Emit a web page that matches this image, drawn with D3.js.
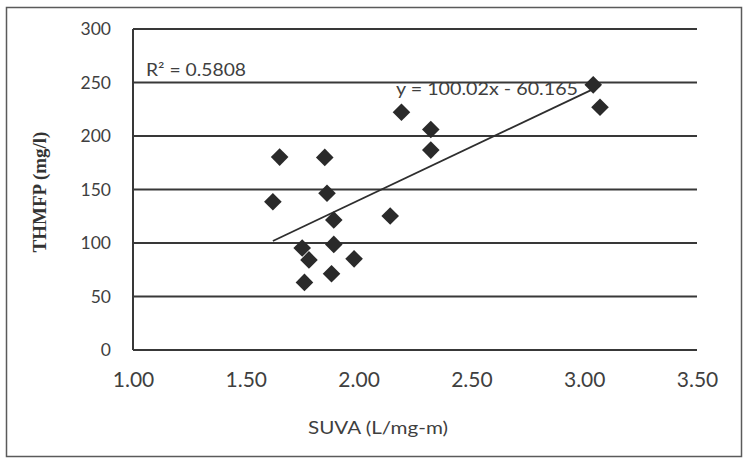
<!DOCTYPE html>
<html>
<head>
<meta charset="utf-8">
<script src="https://cdn.jsdelivr.net/npm/d3@7"></script>
<style>
  html, body { margin: 0; padding: 0; background: #ffffff; }
  svg { display: block; }
</style>
</head>
<body>
<div id="chart"></div>
<script>
// SUVA vs. THMFP samples
const suva  = [1.62, 1.65, 1.85, 1.86, 1.89, 1.89, 1.75, 1.78, 1.98, 1.88, 1.76, 2.14, 2.19, 2.32, 2.32, 3.04, 3.07];
const thmfp = [138.5, 180.3, 180.0, 146.5, 121.5, 98.7, 95.3, 84.2, 85.2, 71.3, 63.2, 125.3, 222.2, 206.1, 186.8, 247.8, 226.9];

// Axis ticks
const xTicks = [1.00, 1.50, 2.00, 2.50, 3.00, 3.50];
const yTicks = [0, 50, 100, 150, 200, 250, 300];

// Linear trend line
const slope = 100.02;
const intercept = -60.165;
const rSquared = 0.5808;

const W = 745, H = 466;
const svg = d3.select("#chart").append("svg")
  .attr("width", W).attr("height", H);

// Outer chart frame
svg.append("rect")
  .attr("x", 6.5).attr("y", 7.5)
  .attr("width", 735).attr("height", 449)
  .attr("fill", "#ffffff")
  .attr("stroke", "#5a5a5a").attr("stroke-width", 1.5);

const x = d3.scaleLinear().domain([1.0, 3.5]).range([133, 697]);
const y = d3.scaleLinear().domain([0, 300]).range([350, 29]);

const ink = "#3f3f3f";
const font = "Lato, 'Open Sans', sans-serif";

// Horizontal gridlines (the 0 line doubles as the x axis)
svg.append("g")
  .selectAll("line")
  .data(yTicks)
  .join("line")
  .attr("x1", x(1.0)).attr("x2", x(3.5))
  .attr("y1", d => y(d)).attr("y2", d => y(d))
  .attr("stroke", "#383838").attr("stroke-width", 2);

// Vertical axis line
svg.append("line")
  .attr("x1", x(1.0)).attr("x2", x(1.0))
  .attr("y1", y(0)).attr("y2", y(300))
  .attr("stroke", "#383838").attr("stroke-width", 2);

// Y axis tick labels
const yAxis = d3.axisLeft(y).tickValues(yTicks).tickSize(0).tickPadding(22)
  .tickFormat(d3.format("d"));
const gy = svg.append("g").attr("transform", `translate(${x(1.0)},0)`).call(yAxis);
gy.select(".domain").remove();
gy.selectAll("text")
  .attr("fill", ink)
  .style("font-family", font)
  .style("font-size", "17.5px");

// X axis tick labels
const xAxis = d3.axisBottom(x).tickValues(xTicks).tickSize(0).tickPadding(22)
  .tickFormat(d3.format(".2f"));
const gx = svg.append("g").attr("transform", `translate(0,${y(0)})`).call(xAxis);
gx.select(".domain").remove();
gx.selectAll("text")
  .attr("fill", ink)
  .style("font-family", font)
  .style("font-size", "21px");

// Axis titles
svg.append("text")
  .attr("x", 308).attr("y", 434)
  .attr("fill", ink)
  .attr("textLength", 140).attr("lengthAdjust", "spacingAndGlyphs")
  .style("font-family", font)
  .style("font-size", "18px")
  .text("SUVA (L/mg-m)");

svg.append("text")
  .attr("transform", "translate(46,192) rotate(-90)")
  .attr("text-anchor", "middle")
  .attr("fill", "#333333")
  .style("font-family", "'Liberation Serif', 'Times New Roman', serif")
  .style("font-weight", "bold")
  .style("font-size", "19px")
  .text("THMFP (mg/l)");

// Trend line across the range of the data
const [x0, x1] = d3.extent(suva);
svg.append("line")
  .attr("x1", x(x0)).attr("y1", y(slope * x0 + intercept))
  .attr("x2", x(x1)).attr("y2", y(slope * x1 + intercept))
  .attr("stroke", "#2e2e2e").attr("stroke-width", 1.8);

// Diamond markers
const diamond = d3.symbol().type(d3.symbolSquare).size(155);
svg.append("g")
  .selectAll("path")
  .data(suva.map((s, i) => [s, thmfp[i]]))
  .join("path")
  .attr("d", diamond)
  .attr("transform", d => `translate(${x(d[0])},${y(d[1])}) rotate(45)`)
  .attr("fill", "#2a2a2a");

// Trend line annotations
svg.append("text")
  .attr("x", 146).attr("y", 76)
  .attr("fill", ink)
  .attr("textLength", 100).attr("lengthAdjust", "spacingAndGlyphs")
  .style("font-family", font)
  .style("font-size", "17px")
  .text(`R² = ${rSquared}`);

svg.append("text")
  .attr("x", 396).attr("y", 95)
  .attr("fill", ink)
  .attr("textLength", 182).attr("lengthAdjust", "spacingAndGlyphs")
  .style("font-family", font)
  .style("font-size", "18px")
  .text(`y = ${slope}x - ${Math.abs(intercept)}`);
</script>
</body>
</html>
